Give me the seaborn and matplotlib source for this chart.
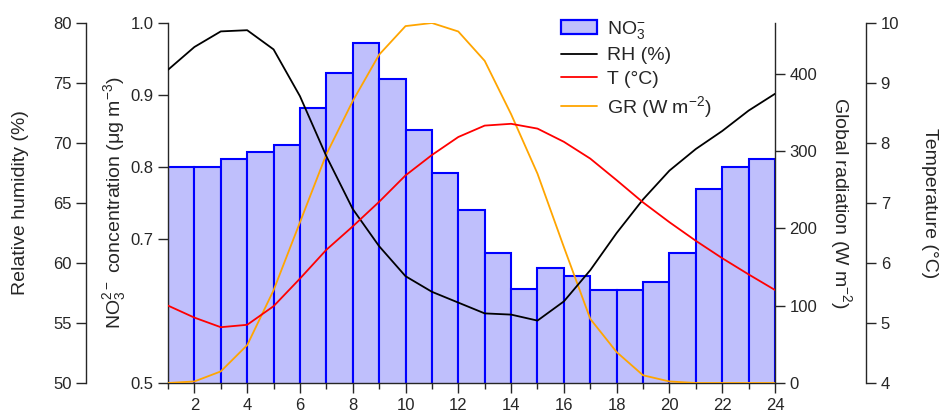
import numpy as np
import pandas as pd
import matplotlib
matplotlib.use("Agg")
import matplotlib.pyplot as plt
from matplotlib.patches import Patch
from matplotlib.lines import Line2D
import seaborn as sns

# ---------------- data ----------------
hours = list(range(1, 25))
bar_hours = list(range(1, 24))          # bars span [h, h+1]
no3 = [0.800, 0.800, 0.811, 0.821, 0.831, 0.882, 0.931, 0.972, 0.922, 0.851,
       0.791, 0.740, 0.680, 0.630, 0.660, 0.649, 0.629, 0.629, 0.640, 0.680,
       0.770, 0.800, 0.811]
rh = [76.1, 78.0, 79.3, 79.4, 77.8, 73.9, 68.9, 64.5, 61.4, 58.9, 57.6, 56.7,
      55.8, 55.7, 55.2, 56.8, 59.4, 62.5, 65.3, 67.7, 69.5, 71.0, 72.7, 74.1]
temp = [5.29, 5.09, 4.93, 4.97, 5.28, 5.74, 6.22, 6.61, 7.02, 7.46, 7.80, 8.10,
        8.29, 8.32, 8.24, 8.02, 7.74, 7.38, 7.01, 6.68, 6.37, 6.08, 5.81, 5.55]
gr = [0, 2, 15, 49, 120, 208, 296, 365, 425, 462, 466, 455,
      417, 348, 271, 176, 83, 40, 10, 2, 0, 0, 0, 0]

x_major = list(range(2, 25, 2))
x_minor = list(range(1, 24, 2))
no3_ticks = [0.5, 0.7, 0.8, 0.9, 1.0]
rh_ticks = [50, 55, 60, 65, 70, 75, 80]
gr_ticks = [0, 100, 200, 300, 400]
t_ticks = [4, 5, 6, 7, 8, 9, 10]

# ---------------- style ----------------
sns.set_theme(style="ticks")
plt.rcParams['font.family'] = ['Liberation Sans', 'DejaVu Sans']
plt.rcParams['mathtext.default'] = 'regular'
plt.rcParams['axes.linewidth'] = 1.0
TICK_FS = 12
LAB_FS = 14

fill_c = '#bfbffc'
edge_c = '#0000ff'

fig = plt.figure(figsize=(9.41, 4.2), dpi=100)
W, H = 941, 420
left, right, top, bottom = 168, 775, 23, 383
ax = fig.add_axes([left / W, (H - bottom) / H, (right - left) / W, (bottom - top) / H])

df_bar = pd.DataFrame({'hour': np.array(bar_hours) + 0.5, 'no3': no3})
sns.barplot(data=df_bar, x='hour', y='no3', native_scale=True, width=1.0,
            color=fill_c, saturation=1, edgecolor=edge_c, linewidth=1.5, ax=ax)
ax.set_xlim(1, 24)
ax.set_ylim(0.5, 1.0)
ax.set_yticks(no3_ticks)
ax.set_yticklabels([f'{v:.1f}' for v in no3_ticks])
ax.set_xticks(x_major)
ax.set_xticklabels([str(v) for v in x_major])
ax.set_xticks(x_minor, minor=True)
ax.set_xlabel('')
ax.set_ylabel(r'NO$_3^{2-}$ concentration (μg m$^{-3}$)', fontsize=LAB_FS, labelpad=2)
ax.spines['top'].set_visible(False)
ax.spines['right'].set_visible(False)
ax.tick_params(axis='both', which='major', labelsize=TICK_FS, length=7, width=1, direction='out')
ax.tick_params(axis='x', which='minor', length=4, width=1, direction='out')

# Global radiation axis (right, at plot edge)
ax_gr = ax.twinx()
sns.lineplot(x=hours, y=gr, color='#ffa500', linewidth=1.3, ax=ax_gr)
ax_gr.set_ylim(0, 466)
ax_gr.set_yticks(gr_ticks)
ax_gr.set_ylabel(r'Global radiation (W m$^{-2}$)', fontsize=LAB_FS, rotation=270,
                 labelpad=26)
for s in ['top', 'bottom', 'left']:
    ax_gr.spines[s].set_visible(False)
ax_gr.tick_params(axis='y', labelsize=TICK_FS, length=7, width=1)

# Relative humidity axis (outer left)
ax_rh = ax.twinx()
sns.lineplot(x=hours, y=rh, color='black', linewidth=1.3, ax=ax_rh)
ax_rh.set_ylim(50, 80)
ax_rh.set_yticks(rh_ticks)
ax_rh.spines['left'].set_visible(True)
ax_rh.spines['left'].set_position(('axes', -0.135))
for s in ['top', 'bottom', 'right']:
    ax_rh.spines[s].set_visible(False)
ax_rh.yaxis.set_ticks_position('left')
ax_rh.yaxis.set_label_position('left')
ax_rh.set_ylabel('Relative humidity (%)', fontsize=LAB_FS, labelpad=17)
ax_rh.tick_params(axis='y', labelsize=TICK_FS, length=7, width=1)

# Temperature axis (outer right)
ax_t = ax.twinx()
sns.lineplot(x=hours, y=temp, color='#ff0000', linewidth=1.3, ax=ax_t)
ax_t.set_ylim(4, 10)
ax_t.set_yticks(t_ticks)
ax_t.spines['right'].set_position(('axes', 1.150))
for s in ['top', 'bottom', 'left']:
    ax_t.spines[s].set_visible(False)
ax_t.set_ylabel('Temperature (°C)', fontsize=LAB_FS, rotation=270, labelpad=28)
ax_t.tick_params(axis='y', labelsize=TICK_FS, length=7, width=1)

for a in (ax_gr, ax_rh, ax_t):
    a.set_xlim(1, 24)

handles = [Patch(facecolor=fill_c, edgecolor=edge_c, linewidth=1.6),
           Line2D([], [], color='black', linewidth=1.3),
           Line2D([], [], color='#ff0000', linewidth=1.3),
           Line2D([], [], color='#ffa500', linewidth=1.3)]
labels = [r'NO$_3^{-}$', 'RH (%)', 'T (°C)', r'GR (W m$^{-2}$)']
ax_t.legend(handles, labels, loc='upper left', bbox_to_anchor=(561 / W, 1 - 19 / H),
            bbox_transform=fig.transFigure, frameon=False, fontsize=LAB_FS,
            handlelength=1.85, handletextpad=0.5, labelspacing=0.3,
            borderpad=0, borderaxespad=0)

fig.savefig('out.png', dpi=100)
